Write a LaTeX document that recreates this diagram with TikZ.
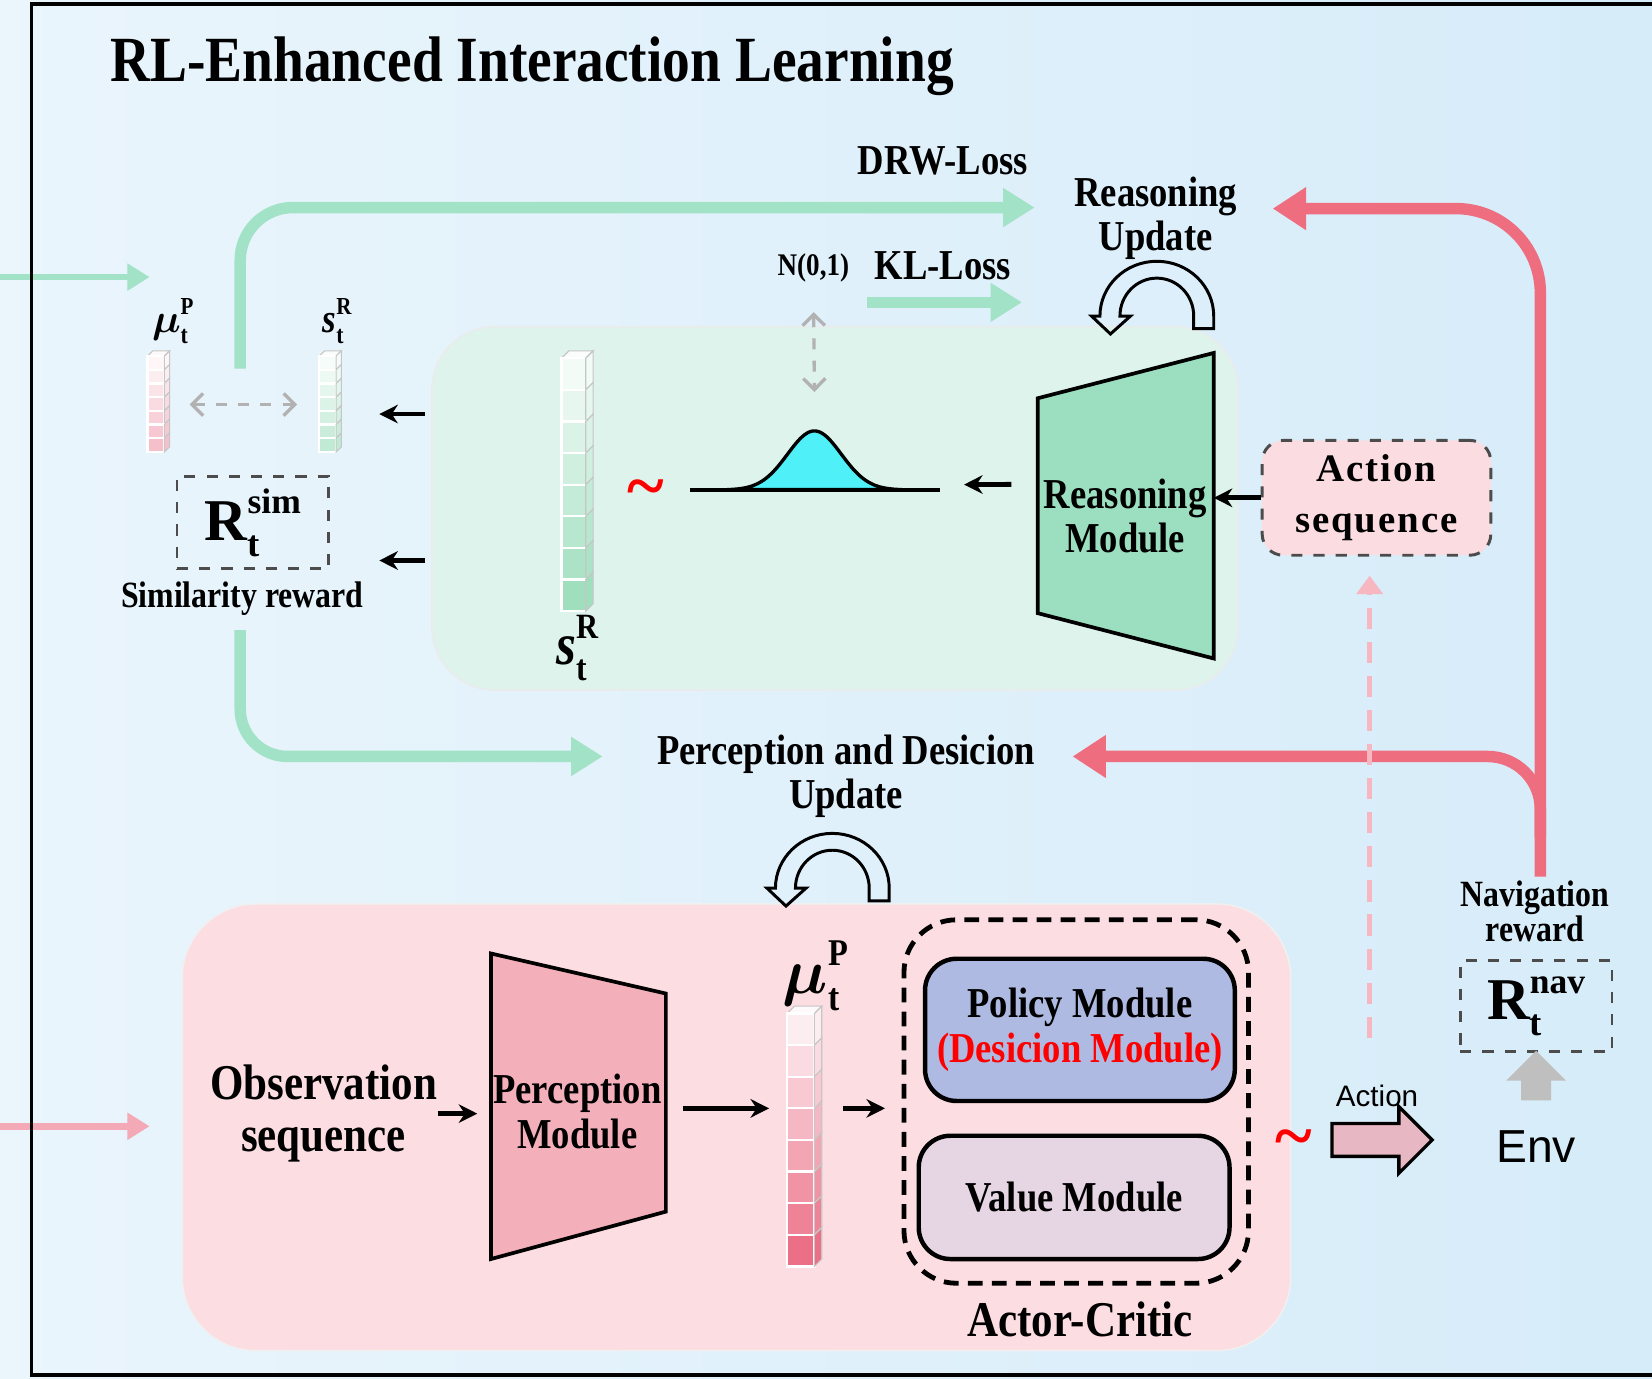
\documentclass[tikz,border=0pt]{standalone}
\usepackage{fontspec}
\setmainfont{Liberation Serif}[FakeStretch=0.86]
\setsansfont{Liberation Sans}
\newfontfamily\plainserif{Liberation Serif}
\usepackage{amsmath}
\usepackage{bm}
\usepackage{graphicx}
\usetikzlibrary{arrows.meta, positioning, calc, shapes.arrows}

\definecolor{bgleft}{HTML}{EAF5FC}
\definecolor{bgright}{HTML}{D6ECF9}
\definecolor{flowgreen}{HTML}{A2E2C6}
\definecolor{flowred}{HTML}{EE6E80}
\definecolor{flowpink}{HTML}{F4AAB6}
\definecolor{panelgreen}{HTML}{DDF3EC}
\definecolor{panelpink}{HTML}{FCDDE2}
\definecolor{reasgreen}{HTML}{9CDFC0}
\definecolor{percpink}{HTML}{F4B0BA}
\definecolor{policyblue}{HTML}{AEBAE2}
\definecolor{valuemauve}{HTML}{E6D5E3}
\definecolor{seqpink}{HTML}{FADCE1}
\definecolor{actpink}{HTML}{E7B8C3}
\definecolor{bellcyan}{HTML}{50F0F8}
\definecolor{cellgreen}{HTML}{8FD9B3}
\definecolor{cellpink}{HTML}{E9607A}

% base with subscript and superscript
\newcommand{\subsup}[3]{#1\rlap{\raisebox{-0.27em}{\scalebox{0.62}{#2}}}\raisebox{0.45em}{\scalebox{0.6}{#3}}}

% feature column: x, top y, cells, width, cell height, depth, colour, strength
\newcommand{\featcol}[8]{%
  \fill[#7!4!white] (#1,#2) -- ++(#6,#6) -- ++(#4,0) -- ++(-#6,-#6) -- cycle;
  \draw[gray!45, line width=0.3pt] (#1,#2) -- ++(#6,#6) -- ++(#4,0) -- ++(-#6,-#6);
  \foreach \i in {1,...,#3}{
    \pgfmathsetmacro{\cellp}{#8*\i/#3}
    \fill[#7!\cellp!white, draw=white, line width=0.6pt] (#1,{#2-(\i-1)*#5}) rectangle ++(#4,-#5);
    \fill[#7!\cellp!white, draw=gray!45, line width=0.3pt] ({#1+#4},{#2-(\i-1)*#5}) -- ++(#6,#6) -- ++(0,-#5) -- ++(-#6,-#6) -- cycle;
  }%
}

\begin{document}
\begin{tikzpicture}[
    >={Stealth[length=5pt,width=5pt]},
    every node/.style={inner sep=0pt},
    lbl/.style={font=\bfseries\fontsize{11.5}{12}\selectfont, align=center},
    smalllbl/.style={font=\bfseries\fontsize{10}{9.7}\selectfont, align=center},
    biglbl/.style={font=\bfseries\fontsize{13.5}{14.2}\selectfont, align=center},
    tilde/.style={text=red, font=\plainserif\bfseries\fontsize{19}{19}\selectfont},
    blackarrow/.style={->, line width=1.3pt},
    greenflow/.style={-{Triangle[length=8.5pt,width=10pt]}, line width=3.1pt, draw=flowgreen},
    redflow/.style={-{Triangle[length=9pt,width=11pt]}, line width=3.1pt, draw=flowred},
    grayflow/.style={<->, >={Straight Barb[length=3pt,width=6pt]}, dashed, gray!60, line width=0.9pt},
    dashedbox/.style={draw=black!70, dashed, line width=0.8pt},
    module/.style={draw, line width=1.2pt, rounded corners=0.3cm},
    uturn/.pic={
      \draw[line width=0.8pt] (0.35,-0.12) -- (0.54,-0.12) -- (0.54,0)
        arc[start angle=0, end angle=180, x radius=0.54, y radius=0.52]
        -- (-0.62,0) -- (-0.44,-0.17) -- (-0.25,0) -- (-0.35,0)
        arc[start angle=180, end angle=0, x radius=0.35, y radius=0.36] -- cycle;
    },
  ]
    \useasboundingbox (0,0) rectangle (15.68,-13.08);
    \shade[left color=bgleft, right color=bgright] (0,0) rectangle (15.68,-13.08);

    % inputs from the left
    \coordinate (ingreen) at (0,-2.63);
    \coordinate (ingreenend) at (1.42,-2.63);
    \coordinate (inpink) at (0,-10.69);
    \coordinate (inpinkend) at (1.42,-10.69);
    \draw[-{Triangle[length=6pt,width=7pt]}, line width=1.8pt, flowgreen] (ingreen) -- (ingreenend);
    \draw[-{Triangle[length=6pt,width=7pt]}, line width=1.8pt, flowpink] (inpink) -- (inpinkend);

    \draw[line width=1pt] (15.68,-0.04) -- (0.30,-0.04) -- (0.30,-13.05) -- (15.68,-13.05);

    \node[font=\bfseries\fontsize{17.4}{20}\selectfont] (title) at (5.05,-0.63) {RL-Enhanced Interaction Learning};

    % panels
    \node[fill=panelgreen, draw=black!8, rounded corners=0.6cm, minimum width=7.65cm, minimum height=3.45cm] (reaspanel) at (7.925,-4.825) {};
    \node[fill=panelpink, draw=black!6, rounded corners=0.7cm, minimum width=10.52cm, minimum height=4.24cm] (percpanel) at (6.99,-10.70) {};

    % reasoning part
    \filldraw[fill=reasgreen, line width=1pt] (9.85,-3.78) coordinate (rmtl) -- (11.52,-3.35) coordinate (rmtr)
      -- (11.52,-6.25) coordinate (rmbr) -- (9.85,-5.82) coordinate (rmbl) -- cycle;
    \node[lbl] (reasmod) at (10.68,-4.90) {Reasoning\\Module};

    \node[dashedbox, fill=seqpink, rounded corners=0.2cm, minimum width=2.17cm, minimum height=1.09cm,
      font=\plainserif\bfseries\fontsize{10.5}{13.7}\selectfont\addfontfeature{LetterSpace=5}, align=center] (actseq) at (13.065,-4.725) {Action\\sequence};
    \draw[blackarrow] (actseq.west) -- (actseq.west -| rmtr);

    \coordinate (gl) at (6.55,-4.65);
    \coordinate (gr) at (8.92,-4.65);
    \filldraw[fill=bellcyan, line width=0.9pt, domain=6.90:8.56, samples=80, smooth] plot (\x, {-4.65+0.56*exp(-((\x-7.73)^2)/0.13)}) -- cycle;
    \draw[line width=1.1pt] (gl) -- (gr);
    \coordinate (gauss) at (9.15,-4.60);
    \draw[blackarrow, shorten <=0.25cm] ($(rmtl)!0.40!(rmbl)$) -- (gauss);

    \node[font=\bfseries\fontsize{8.5}{9}\selectfont] (normal) at (7.72,-2.54) {N(0,1)};
    \coordinate (peak) at (7.73,-3.72);
    \draw[grayflow, shorten <=0.28cm] (normal.south) -- (peak);

    \node[tilde] (tilde1) at (6.13,-4.69) {\textasciitilde};

    \featcol{5.33}{-3.40}{8}{0.23}{0.30}{0.07}{cellgreen}{85}
    \node[font=\bfseries\fontsize{16}{16}\selectfont] (sbig) at (5.48,-6.15) {\subsup{\textit{s}}{t}{R}};

    % similarity reward
    \coordinate (out1) at (4.03,-3.93);
    \coordinate (in1) at (3.60,-3.93);
    \coordinate (out2) at (4.03,-5.32);
    \coordinate (in2) at (3.60,-5.32);
    \draw[blackarrow] (out1) -- (in1);
    \draw[blackarrow] (out2) -- (in2);

    \featcol{1.40}{-3.38}{7}{0.16}{0.13}{0.05}{cellpink}{40}
    \featcol{3.03}{-3.38}{7}{0.16}{0.13}{0.05}{cellgreen}{55}
    \node[font=\bfseries\fontsize{11}{11}\selectfont] (musmall) at (1.64,-3.05) {\subsup{$\boldsymbol{\mu}$}{t}{P}};
    \node[font=\bfseries\fontsize{11}{11}\selectfont] (ssmall) at (3.20,-3.05) {\subsup{\textit{s}}{t}{R}};
    \coordinate (cmpl) at (1.80,-3.84);
    \coordinate (cmpr) at (2.82,-3.84);
    \draw[grayflow] (cmpl) -- (cmpr);

    \node[dashedbox, minimum width=1.44cm, minimum height=0.88cm, font=\plainserif\bfseries\fontsize{16}{16}\selectfont] (rsim) at (2.40,-4.96) {\subsup{R}{t}{sim}};
    \node[smalllbl] (simlbl) at (2.30,-5.68) {Similarity reward};

    % losses and updates
    \node[lbl] (drwlbl) at (8.95,-1.53) {DRW-Loss};
    \node[lbl] (kllbl) at (8.95,-2.52) {KL-Loss};
    \node[lbl] (reasupd) at (10.97,-2.07) {Reasoning\\Update};
    \node[lbl] (percupd) at (8.03,-7.37) {Perception and Desicion\\Update};

    \coordinate (drwstart) at (2.28,-3.50);
    \coordinate (drwend) at (9.82,-1.97);
    \draw[greenflow, rounded corners=0.5cm] (drwstart) |- (drwend);
    \coordinate (kls) at (8.23,-2.87);
    \coordinate (kle) at (9.70,-2.87);
    \draw[greenflow] (kls) -- (kle);
    \coordinate (simdown) at (2.28,-5.98);
    \coordinate (percin) at (5.72,-7.18);
    \draw[greenflow, rounded corners=0.45cm] (simdown) |- (percin);

    \coordinate (navtop) at (14.62,-8.32);
    \coordinate (reasin) at (12.08,-1.98);
    \draw[redflow, rounded corners=0.8cm] (navtop) |- (reasin);
    \coordinate (branch) at (14.62,-7.95);
    \coordinate (percin2) at (10.18,-7.18);
    \draw[redflow, rounded corners=0.5cm] (branch) |- (percin2);

    \pic at (10.98,-3.00) {uturn};
    \pic at (7.90,-8.43) {uturn};

    \coordinate (dashlow) at (13.00,-9.85);
    \draw[-{Triangle[length=5pt,width=7pt]}, line width=1.5pt, flowpink!85, dash pattern=on 5.7pt off 3.5pt, shorten >=0.18cm] (dashlow) -- (dashlow |- actseq.south);

    % perception part
    \filldraw[fill=percpink, line width=1pt] (4.66,-9.05) coordinate (pmtl) -- (6.32,-9.43) coordinate (pmtr)
      -- (6.32,-11.50) coordinate (pmbr) -- (4.66,-11.95) coordinate (pmbl) -- cycle;
    \node[lbl] (percmod) at (5.48,-10.55) {Perception\\Module};
    \node[biglbl] (obsseq) at (3.07,-10.57) {Observation\\sequence};
    \draw[blackarrow, shorten >=0.13cm] (obsseq.east) -- (obsseq.east -| pmtl);

    \coordinate (pmout) at (6.48,-10.52);
    \coordinate (muin) at (7.30,-10.52);
    \draw[blackarrow] (pmout) -- (muin);

    \featcol{7.47}{-9.62}{8}{0.26}{0.30}{0.07}{cellpink}{90}
    \node[font=\bfseries\fontsize{17}{17}\selectfont] (mubig) at (7.74,-9.26) {\subsup{$\boldsymbol{\mu}$}{t}{P}};

    \coordinate (muout) at (8.00,-10.52);
    \coordinate (acin) at (8.40,-10.52);
    \draw[blackarrow] (muout) -- (acin);

    \node[draw, line width=1.3pt, dash pattern=on 4pt off 2.5pt, rounded corners=0.5cm, minimum width=3.27cm, minimum height=3.45cm] (acbox) at (10.215,-10.455) {};
    \node[biglbl] (aclbl) at (10.25,-12.52) {Actor-Critic};
    \node[module, lbl, fill=policyblue, minimum width=2.94cm, minimum height=1.35cm] (policy) at (10.25,-9.775) {Policy Module\\\textcolor{red}{(Desicion Module)}};
    \node[module, lbl, fill=valuemauve, minimum width=2.95cm, minimum height=1.17cm] (value) at (10.195,-11.365) {Value Module};

    % environment
    \node[tilde] (tilde2) at (12.28,-10.86) {\textasciitilde};
    \node[single arrow, draw, line width=0.9pt, fill=actpink, minimum height=0.95cm, inner sep=0.14cm, single arrow head extend=0.16cm] (actarrow) at (13.04,-10.82) {};
    \node[font=\sffamily\fontsize{8}{8}\selectfont] (actlbl) at (13.07,-10.40) {Action};
    \node[font=\sffamily\fontsize{12.5}{12.5}\selectfont] (env) at (14.58,-10.88) {Env};
    \node[dashedbox, minimum width=1.44cm, minimum height=0.86cm, font=\plainserif\bfseries\fontsize{16}{16}\selectfont] (rnav) at (14.58,-9.55) {\subsup{R}{t}{nav}};
    \node[single arrow, fill=gray!50, shape border rotate=90, minimum height=0.47cm, inner sep=0.135cm, single arrow head extend=0.14cm] (envup) at (14.58,-10.28) {};
    \node[smalllbl] (navlbl) at (14.57,-8.65) {Navigation\\reward};
\end{tikzpicture}
\end{document}
